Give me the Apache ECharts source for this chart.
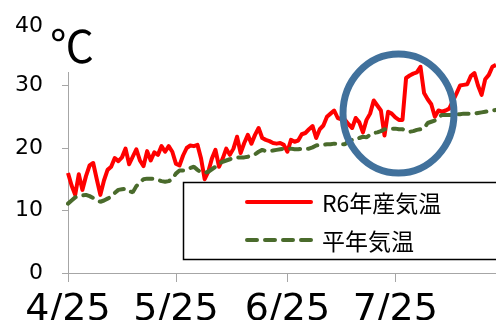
<!DOCTYPE html>
<html>
<head>
<meta charset="utf-8">
<script src="https://cdn.jsdelivr.net/npm/echarts@6/dist/echarts.min.js"></script>
<style>
    html, body { margin: 0; padding: 0; background: #fff; }
    #chart { width: 496px; height: 320px; }
</style>
</head>
<body>
<div id="chart"></div>
<script>
// 日別気温データ（4/25 から毎日）
const startDate = [2024, 4, 25];
const tickLabels = ['4/25', '5/25', '6/25', '7/25'];
const yTicks = [0, 10, 20, 30, 40];
const seriesNames = ['R6年産気温', '平年気温'];

const r6Temp = [
    16.0, 14.0, 12.5, 15.8, 13.3, 15.5, 17.2, 17.6, 15.0, 12.5,
    14.8, 16.5, 17.0, 18.4, 17.9, 18.5, 19.9, 17.4, 18.6, 19.8,
    18.0, 17.1, 19.5, 18.0, 19.3, 18.9, 20.3, 19.4, 20.3, 19.4,
    17.5, 17.2, 18.8, 20.0, 20.4, 20.3, 20.5, 18.3, 15.0, 16.2,
    18.3, 19.7, 17.0, 18.3, 19.9, 18.9, 19.9, 21.8, 19.2, 20.8,
    22.1, 20.7, 22.1, 23.2, 21.6, 21.3, 21.1, 20.8, 20.7, 20.8,
    20.5, 19.4, 21.3, 21.0, 21.2, 22.2, 22.4, 23.0, 23.5, 21.6,
    23.0, 23.6, 25.0, 25.5, 26.0, 24.8, 24.6, 24.5, 23.8, 23.2,
    24.8, 24.1, 22.5, 24.5, 25.5, 27.6, 26.8, 26.0, 22.0, 25.8,
    25.5, 24.9, 24.5, 24.5, 31.2, 31.6, 31.9, 32.1, 33.0, 28.8,
    27.8, 27.0, 25.0, 26.0, 25.8, 26.0, 26.3, 27.5, 28.7, 30.0,
    30.1, 30.2, 31.5, 32.0, 30.0, 28.5, 31.0, 31.7, 33.0, 33.3
];

const normalTemp = [
    11.1, 11.6, 12.1, 12.3, 12.4, 12.5, 12.3, 12.0, 11.7, 11.4,
    11.6, 11.9, 12.2, 12.8, 13.3, 13.4, 13.5, 13.1, 12.9, 13.9,
    14.5, 15.0, 15.1, 15.1, 15.1, 14.9, 14.7, 14.6, 14.7, 15.0,
    15.9, 16.4, 16.4, 16.5, 16.8, 17.0, 16.5, 16.1, 16.0, 16.2,
    16.6, 17.0, 17.5, 17.8, 18.0, 18.2, 18.4, 18.5, 18.5, 18.5,
    18.6, 18.8, 19.0, 19.4, 19.7, 19.5, 19.5, 19.6, 19.7, 19.8,
    19.9, 19.9, 19.9, 19.8, 19.8, 19.9, 19.9, 19.9, 20.1, 20.4,
    20.5, 20.5, 20.6, 20.6, 20.7, 20.7, 20.6, 20.6, 21.1, 21.3,
    21.3, 21.6, 21.8, 21.7, 22.1, 22.4, 22.5, 22.7, 23.0, 23.0,
    23.1, 23.1, 23.0, 23.0, 22.8, 22.6, 22.7, 22.9, 23.0, 23.1,
    24.0, 24.2, 24.4, 24.9, 25.3, 25.3, 25.3, 25.3, 25.4, 25.4,
    25.5, 25.5, 25.5, 25.5, 25.6, 25.7, 25.8, 25.9, 26.0, 26.1
];

const RED = '#ff0000';
const GREEN = '#4a6b2c';
const GREEN_DASH = [10, 8];

// 日付ラベルを作る
function buildDates(n) {
    const list = [];
    const d = new Date(startDate[0], startDate[1] - 1, startDate[2]);
    for (let i = 0; i < n; i++) {
        list.push((d.getMonth() + 1) + '/' + d.getDate());
        d.setDate(d.getDate() + 1);
    }
    return list;
}

const dates = buildDates(r6Temp.length);
const showTick = (idx, val) => tickLabels.indexOf(val) >= 0;

const legendText = {
    fontFamily: 'Noto Sans CJK JP',
    fontSize: 23,
    fill: '#000',
    verticalAlign: 'middle'
};

const chart = echarts.init(document.getElementById('chart'));
chart.setOption({
    animation: false,
    backgroundColor: '#fff',
    grid: { left: 68, right: 0, top: 23, bottom: 47, containLabel: false, outerBoundsMode: 'none' },
    xAxis: {
        type: 'category',
        data: dates,
        boundaryGap: false,
        axisLine: { lineStyle: { color: '#a6a6a6', width: 1 } },
        axisTick: { interval: showTick, length: 9, lineStyle: { color: '#a6a6a6' } },
        axisLabel: {
            interval: showTick,
            margin: 18,
            fontFamily: 'DejaVu Sans',
            fontSize: 38,
            color: '#000'
        },
        splitLine: { show: false }
    },
    yAxis: {
        type: 'value',
        min: yTicks[0],
        max: yTicks[yTicks.length - 1],
        interval: 10,
        axisLine: { show: true, lineStyle: { color: '#a6a6a6', width: 1 } },
        axisTick: { show: true, length: 6, lineStyle: { color: '#a6a6a6' } },
        axisLabel: {
            margin: 25,
            fontFamily: 'DejaVu Sans',
            fontSize: 22,
            color: '#000',
            formatter: v => (v === 40 ? '{t|40}' : String(v)),
            rich: { t: { fontFamily: 'DejaVu Sans', fontSize: 22, color: '#000', padding: [6, 0, 0, 0] } }
        },
        splitLine: { show: false }
    },
    series: [
        {
            name: seriesNames[0],
            type: 'line',
            data: r6Temp,
            symbol: 'none',
            lineStyle: { color: RED, width: 4, join: 'round' }
        },
        {
            name: seriesNames[1],
            type: 'line',
            data: normalTemp,
            symbol: 'none',
            lineStyle: { color: GREEN, width: 4, type: GREEN_DASH, cap: 'round' }
        }
    ],
    graphic: [
        // 凡例の枠
        {
            type: 'rect',
            z: 10,
            shape: { x: 183.5, y: 182.5, width: 320, height: 77 },
            style: { fill: '#fff', stroke: '#000', lineWidth: 1.5 }
        },
        {
            type: 'line',
            z: 11,
            shape: { x1: 247, y1: 202, x2: 311, y2: 202 },
            style: { stroke: RED, lineWidth: 4, lineCap: 'round' }
        },
        {
            type: 'text',
            z: 11,
            x: 322,
            y: 203,
            style: Object.assign({ text: seriesNames[0] }, legendText)
        },
        {
            type: 'line',
            z: 11,
            shape: { x1: 247, y1: 240, x2: 311, y2: 240 },
            style: { stroke: GREEN, lineWidth: 4, lineCap: 'round', lineDash: GREEN_DASH }
        },
        {
            type: 'text',
            z: 11,
            x: 322,
            y: 241,
            style: Object.assign({ text: seriesNames[1] }, legendText)
        },
        // 単位テキスト（軸の上を隠す）
        {
            type: 'rect',
            z: 10,
            shape: { x: 50, y: 14, width: 50, height: 58 },
            style: { fill: '#fff' }
        },
        {
            type: 'text',
            z: 11,
            left: 50,
            top: 24,
            style: {
                text: '℃',
                fontFamily: 'Noto Sans CJK JP',
                fontSize: 44,
                fill: '#000'
            }
        },
        // 青い丸
        {
            type: 'ellipse',
            z: 12,
            shape: { cx: 398.5, cy: 113.5, rx: 55.5, ry: 59.5 },
            style: { fill: 'none', stroke: '#41719c', lineWidth: 7 }
        }
    ]
});
</script>
</body>
</html>
